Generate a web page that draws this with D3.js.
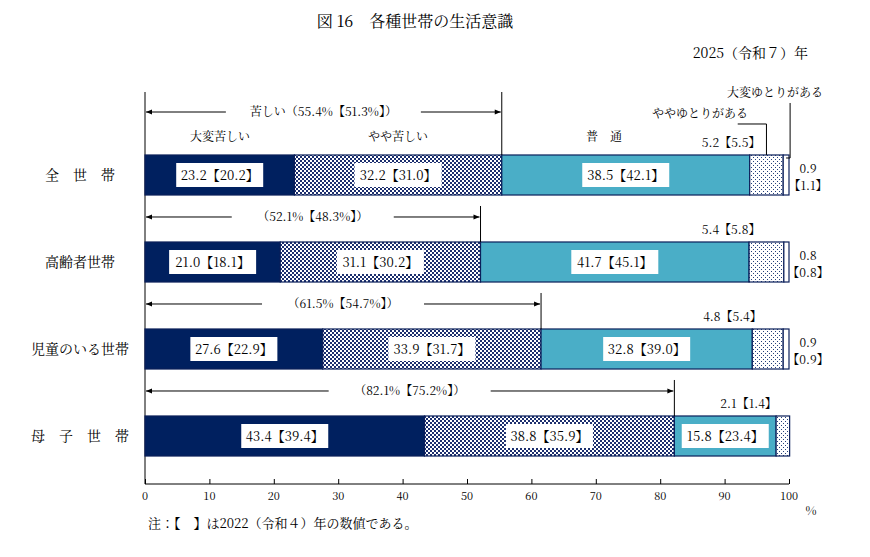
<!DOCTYPE html><html><head><meta charset="utf-8"><script src="https://cdn.jsdelivr.net/npm/d3@7"></script>
<style>body{margin:0;background:#fff}text{font-family:"Noto Serif CJK JP","Noto Sans CJK JP",serif;}</style></head><body><svg id="c" width="870" height="557"></svg><script>
const categories=["全　世　帯","高齢者世帯","児童のいる世帯","母　子　世　帯"];
const series=["大変苦しい","やや苦しい","普通","ややゆとりがある","大変ゆとりがある"];
const v2025=[[23.2,32.2,38.5,5.2,0.9],[21.0,31.1,41.7,5.4,0.8],[27.6,33.9,32.8,4.8,0.9],[43.4,38.8,15.8,2.1,0]];
const v2022=[[20.2,31.0,42.1,5.5,1.1],[18.1,30.2,45.1,5.8,0.8],[22.9,31.7,39.0,5.4,0.9],[39.4,35.9,23.4,1.4,0]];
const hard=["55.4%【51.3%】","52.1%【48.3%】","61.5%【54.7%】","82.1%【75.2%】"];
const ticks=[0,10,20,30,40,50,60,70,80,90,100];
const svg=d3.select("#c");
const defs=svg.append("defs");
let p=defs.append("pattern").attr("id","chk").attr("width",4).attr("height",4).attr("patternUnits","userSpaceOnUse");
p.append("rect").attr("width",4).attr("height",4).attr("fill","#fff");
p.append("rect").attr("width",2).attr("height",2).attr("fill","#1c2f6e");
p.append("rect").attr("x",2).attr("y",2).attr("width",2).attr("height",2).attr("fill","#1c2f6e");
let q=defs.append("pattern").attr("id","dot").attr("width",4).attr("height",4).attr("patternUnits","userSpaceOnUse");
q.append("rect").attr("width",4).attr("height",4).attr("fill","#fff");
q.append("rect").attr("x",1).attr("y",1).attr("width",1).attr("height",1).attr("fill","#24407a");
q.append("rect").attr("x",3).attr("y",3).attr("width",1).attr("height",1).attr("fill","#24407a");
defs.append("marker").attr("id","ar").attr("viewBox","0 0 10 10").attr("refX",10).attr("refY",5).attr("markerWidth",8).attr("markerHeight",6).attr("orient","auto-start-reverse").append("path").attr("d","M0,1L10,5L0,9z").attr("fill","#000");
const fills=["#00205f","url(#chk)","#4aaec7","url(#dot)","#fff"];
const x=d3.scaleLinear().domain([0,100]).range([145,789]);
const y=d3.scaleBand().domain(categories).range([131.5,479.5]).paddingInner(0.54).paddingOuter(0.27);
svg.append("text").attr("x",415).attr("y",27).attr("text-anchor","middle").attr("font-size",16).text("図 16　各種世帯の生活意識");
svg.append("text").attr("x",808).attr("y",58).attr("text-anchor","end").attr("font-size",14).text("2025（令和７）年");
svg.append("line").attr("x1",145).attr("x2",145).attr("y1",92).attr("y2",484).attr("stroke","#000");
const ax=svg.append("g").attr("transform","translate(0,484)").call(d3.axisTop(x).tickValues(ticks).tickSize(5).tickFormat(""));
ax.select(".domain").attr("d","M145,0H789");
ax.selectAll("text").remove();
ticks.forEach(t=>svg.append("text").attr("x",x(t)).attr("y",500).attr("text-anchor","middle").attr("font-size",11).text(t));
svg.append("text").attr("x",811).attr("y",515).attr("text-anchor","middle").attr("font-size",12).text("%");
svg.append("text").attr("x",148).attr("y",528).attr("font-size",13).text("注：【　】は2022（令和４）年の数値である。");
categories.forEach((c,i)=>{
  const yy=y(c),h=y.bandwidth();
  svg.append("text").attr("x",80).attr("y",yy+h/2+5).attr("text-anchor","middle").attr("font-size",14).text(c);
  let cum=0;
  const vals=v2025[i];
  vals.forEach((v,j)=>{
    if(v>0) svg.append("rect").attr("x",x(cum)).attr("y",yy).attr("width",x(cum+v)-x(cum)).attr("height",h).attr("fill",fills[j]).attr("stroke","#0b1f5a").attr("stroke-width",1.2);
    if(j<3){
      const cx=(x(cum)+x(cum+v))/2, lab=v.toFixed(1)+"【"+v2022[i][j].toFixed(1)+"】";
      const w=lab.length*7.5+12;
      svg.append("rect").attr("x",cx-w/2).attr("y",yy+h/2-12).attr("width",w).attr("height",24).attr("fill","#fff");
      svg.append("text").attr("x",cx).attr("y",yy+h/2+5).attr("text-anchor","middle").attr("font-size",13).text(lab);
    }
    cum+=v;
  });
  const hx=x(vals[0]+vals[1]);
  const top=i==0?92:yy-36, ay=i==0?112:yy-25;
  svg.append("line").attr("x1",hx).attr("x2",hx).attr("y1",top).attr("y2",yy).attr("stroke","#000");
  const lbl=(i==0?"苦しい（":"（")+hard[i]+"）";
  const cx=(145+hx)/2, tw=lbl.length*11;
  svg.append("text").attr("x",cx).attr("y",ay+4).attr("text-anchor","middle").attr("font-size",12).text(lbl);
  svg.append("line").attr("x1",cx-tw/2-4).attr("x2",146).attr("y1",ay).attr("y2",ay).attr("stroke","#000").attr("marker-end","url(#ar)");
  svg.append("line").attr("x1",cx+tw/2+4).attr("x2",hx-1).attr("y1",ay).attr("y2",ay).attr("stroke","#000").attr("marker-end","url(#ar)");
  const rx=x(vals[0]+vals[1]+vals[2]+vals[3]/2);
  svg.append("text").attr("x",rx-6).attr("y",yy-8).attr("text-anchor","end").attr("font-size",12).text(vals[3].toFixed(1)+"【"+v2022[i][3].toFixed(1)+"】");
  if(vals[4]>0){
    svg.append("text").attr("x",808).attr("y",yy+h/2-2).attr("text-anchor","middle").attr("font-size",12).text(vals[4].toFixed(1));
    svg.append("text").attr("x",808).attr("y",yy+h/2+15).attr("text-anchor","middle").attr("font-size",12).text("【"+v2022[i][4].toFixed(1)+"】");
  }
  if(i==0){
    svg.append("text").attr("x",220).attr("y",yy-14).attr("text-anchor","middle").attr("font-size",12).text(series[0]);
    svg.append("text").attr("x",398).attr("y",yy-14).attr("text-anchor","middle").attr("font-size",12).text(series[1]);
    svg.append("text").attr("x",604).attr("y",yy-14).attr("text-anchor","middle").attr("font-size",12).text("普　通");
    svg.append("text").attr("x",700).attr("y",yy-37).attr("text-anchor","middle").attr("font-size",12).text(series[3]);
    svg.append("path").attr("d",`M${x(vals[0]+vals[1]+vals[2])-12},${yy-31}H${rx}V${yy}`).attr("fill","none").attr("stroke","#000");
    svg.append("text").attr("x",775).attr("y",yy-58).attr("text-anchor","middle").attr("font-size",12).text(series[4]);
    const ex=x(99.55);
    svg.append("path").attr("d",`M${ex+4},${yy-52}V${yy+3}H${ex}`).attr("fill","none").attr("stroke","#000");
  }
});
</script></body></html>
